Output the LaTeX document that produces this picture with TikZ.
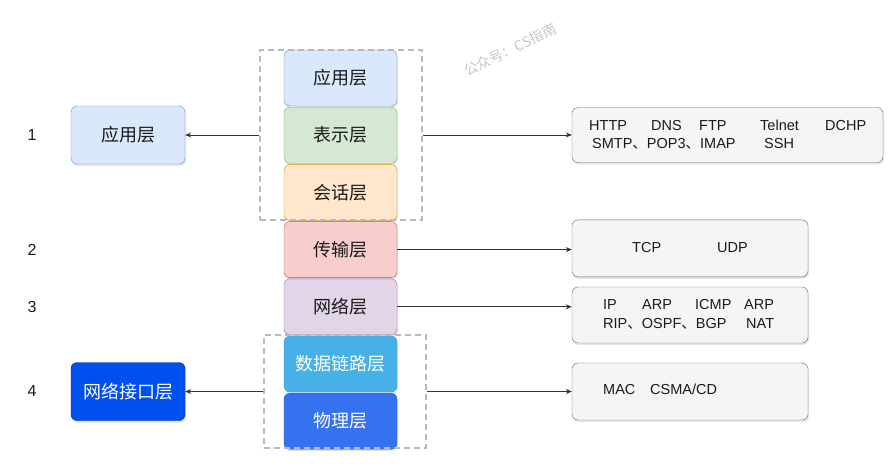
\documentclass[tikz,border=0pt]{standalone}
\usepackage{fontspec}
\setmainfont{Liberation Sans}
\newfontfamily\cjkfont{Noto Sans CJK SC}
\usepackage{tikz}
\usetikzlibrary{arrows.meta, positioning, shadows}
\usepackage{xcolor}

\definecolor{appfill}{HTML}{DAE8FC}\definecolor{appdraw}{HTML}{6C8EBF}
\definecolor{presfill}{HTML}{D5E8D4}\definecolor{presdraw}{HTML}{82B366}
\definecolor{sessfill}{HTML}{FFE6CC}\definecolor{sessdraw}{HTML}{D79B00}
\definecolor{transfill}{HTML}{F8CECC}\definecolor{transdraw}{HTML}{B85450}
\definecolor{netfill}{HTML}{E1D5E7}\definecolor{netdraw}{HTML}{9673A6}
\definecolor{linkfill}{HTML}{46B1E6}\definecolor{linkdraw}{HTML}{3A98C8}
\definecolor{physfill}{HTML}{3572F0}\definecolor{physdraw}{HTML}{2A5CC8}
\definecolor{iffill}{HTML}{0050EF}\definecolor{ifdraw}{HTML}{001DBC}
\definecolor{protofill}{HTML}{F5F5F5}\definecolor{protodraw}{HTML}{666666}
\definecolor{textdark}{HTML}{1A1A1A}

\begin{document}
\begin{tikzpicture}[
    x=1pt, y=-1pt,
    layer/.style={rectangle, draw, rounded corners=6pt, minimum width=113pt, minimum height=56pt, inner sep=0pt, text=textdark, font=\cjkfont\fontsize{18}{20}\selectfont, drop shadow={shadow xshift=1pt, shadow yshift=-2pt, opacity=0.2}},
    side/.style={layer, minimum width=114pt, minimum height=58pt},
    group/.style={rectangle, draw=gray!55, line width=1.3pt, dash pattern=on 6pt off 4pt, inner sep=0pt},
    proto/.style={rectangle, draw=protodraw, fill=protofill, rounded corners=6pt, inner sep=0pt, drop shadow={shadow xshift=1pt, shadow yshift=-2pt, opacity=0.2}},
    word/.style={anchor=west, inner sep=0pt, text height=10.4pt, text depth=0pt, text=textdark, font=\fontsize{14.5}{16}\selectfont},
    num/.style={font=\fontsize{16}{18}\selectfont, text=textdark},
    arrow/.style={-{Stealth[length=6pt, width=5pt]}, draw=black!80, line width=0.8pt}
]
\useasboundingbox (0,0) rectangle (890,466);

% Seven layers stacked
\node[layer, fill=appfill, draw=appdraw] (app) at (340.5,78) {应用层};
\node[layer, fill=presfill, draw=presdraw, below=0.8pt of app] (pres) {表示层};
\node[layer, fill=sessfill, draw=sessdraw, below=0.8pt of pres] (sess) {会话层};
\node[layer, fill=transfill, draw=transdraw, below=0.8pt of sess] (trans) {传输层};
\node[layer, fill=netfill, draw=netdraw, below=0.8pt of trans] (net) {网络层};
\node[layer, fill=linkfill, draw=linkdraw, text=white, below=0.8pt of net] (link) {数据链路层};
\node[layer, fill=physfill, draw=physdraw, text=white, below=0.8pt of link] (phys) {物理层};

% Dashed groups
\node[group, minimum width=162pt, minimum height=170pt] (upper) at (341,135) {};
\node[group, minimum width=162pt, minimum height=113pt] (lower) at (345,391.5) {};

% Four layer model
\node[side, fill=appfill, draw=appdraw] (appleft) at (128,135) {应用层};
\node[side, fill=iffill, draw=ifdraw, text=white] (ifleft) at (128,391.5) {网络接口层};

\node[num] (n1) at (32,135) {1};
\node[num] (n2) at (32,250) {2};
\node[num] (n3) at (32,307) {3};
\node[num] (n4) at (32,391) {4};

% Protocol boxes
\node[proto, minimum width=311pt, minimum height=55pt] (r1) at (727.5,135) {};
\node[proto, minimum width=236pt, minimum height=57pt] (r2) at (690,248.4) {};
\node[proto, minimum width=236pt, minimum height=56pt] (r3) at (690,315) {};
\node[proto, minimum width=236pt, minimum height=57pt] (r4) at (690,391.5) {};

\node[word] (http) at (589,125) {HTTP};
\node[word] (dns) at (651,125) {DNS};
\node[word] (ftp) at (699,125) {FTP};
\node[word] (telnet) at (760,125) {Telnet};
\node[word] (dchp) at (825,125) {DCHP};
\node[word] (smtp) at (592,143.5) {SMTP{\cjkfont 、}POP3{\cjkfont 、}IMAP};
\node[word] (ssh) at (764,143.5) {SSH};

\node[word] (tcp) at (632,247.5) {TCP};
\node[word] (udp) at (717,247.5) {UDP};

\node[word] (ip) at (603,304.5) {IP};
\node[word] (arp) at (642,304.5) {ARP};
\node[word] (icmp) at (695,304.5) {ICMP};
\node[word] (arpb) at (744,304.5) {ARP};
\node[word] (rip) at (603,323.5) {RIP{\cjkfont 、}OSPF{\cjkfont 、}BGP};
\node[word] (nat) at (746,323.5) {NAT};

\node[word] (mac) at (603,389.5) {MAC};
\node[word] (csma) at (650,389.5) {CSMA/CD};

% Arrows
\draw[arrow] (upper.west) -- (appleft.east);
\draw[arrow] (lower.west) -- (ifleft.east);
\draw[arrow] (upper.east) -- (r1.west);
\draw[arrow] (trans.east) -- (trans.east -| r2.west);
\draw[arrow] (net.east) -- (net.east -| r3.west);
\draw[arrow] (lower.east) -- (r4.west);

% Watermark
\node[text=gray!45, rotate=26, font=\cjkfont\fontsize{14}{16}\selectfont] (mark) at (510,50) {公众号：CS指南};

\end{tikzpicture}
\end{document}
